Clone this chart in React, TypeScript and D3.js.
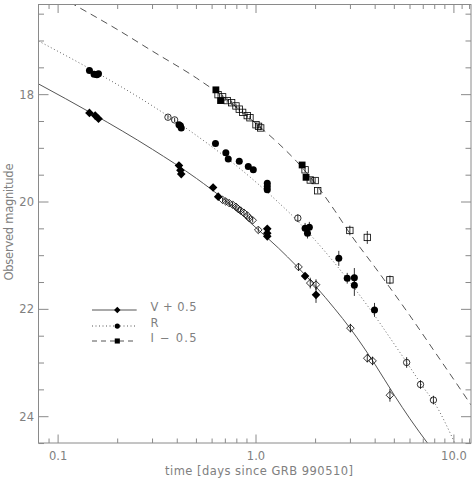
import React from 'react';
import * as d3 from 'd3';

// ---- data ----
const vFilledT = [0.144, 0.154, 0.160, 0.408, 0.415, 0.419, 0.607, 0.644, 1.14, 1.14, 1.14, 1.77, 2.01];
const vFilledM = [18.34, 18.39, 18.45, 19.32, 19.41, 19.48, 19.73, 19.90, 20.50, 20.58, 20.64, 21.38, 21.73];
const vFilledE = [0.02, 0.02, 0.02, 0.02, 0.02, 0.02, 0.02, 0.02, 0.03, 0.03, 0.03, 0.05, 0.15];

const vOpenT = [0.678, 0.704, 0.732, 0.762, 0.792, 0.813, 0.836, 0.869, 0.903, 0.925, 0.962, 1.027, 1.64, 1.88, 2.01, 3.0, 3.65, 3.88, 4.75];
const vOpenM = [19.96, 19.99, 20.02, 20.05, 20.09, 20.13, 20.16, 20.20, 20.25, 20.30, 20.34, 20.52, 21.21, 21.51, 21.54, 22.35, 22.91, 22.96, 23.60];
const vOpenE = [0.04, 0.04, 0.04, 0.04, 0.04, 0.04, 0.04, 0.04, 0.04, 0.04, 0.04, 0.05, 0.07, 0.1, 0.1, 0.08, 0.08, 0.08, 0.12];

const rFilledT = [0.144, 0.152, 0.157, 0.160, 0.408, 0.415, 0.419, 0.624, 0.704, 0.724, 0.823, 0.914, 0.969, 1.14, 1.14, 1.14, 1.77, 1.82, 1.86, 2.62, 2.89, 3.14, 3.14, 3.97];
const rFilledM = [17.55, 17.62, 17.63, 17.61, 18.56, 18.58, 18.62, 18.91, 19.08, 19.20, 19.24, 19.34, 19.40, 19.65, 19.71, 19.77, 20.49, 20.58, 20.47, 21.05, 21.42, 21.41, 21.55, 22.01];
const rFilledE = [0.02, 0.02, 0.02, 0.02, 0.02, 0.02, 0.02, 0.02, 0.02, 0.02, 0.02, 0.02, 0.02, 0.03, 0.03, 0.03, 0.1, 0.1, 0.1, 0.14, 0.1, 0.18, 0.2, 0.13];

const rOpenT = [0.359, 0.388, 1.627, 5.77, 6.78, 7.88];
const rOpenM = [18.42, 18.47, 20.30, 22.99, 23.40, 23.69];
const rOpenE = [0.04, 0.04, 0.07, 0.1, 0.08, 0.08];

const iFilledT = [0.627, 0.662, 1.71, 1.79];
const iFilledM = [17.91, 18.11, 19.31, 19.54];
const iFilledE = [0.02, 0.02, 0.03, 0.03];

const iOpenT = [0.643, 0.678, 0.715, 0.753, 0.792, 0.823, 0.856, 0.903, 0.932, 1.0, 1.03, 1.056, 1.77, 1.88, 1.99, 2.05, 2.98, 3.65, 4.75];
const iOpenM = [18.00, 18.04, 18.11, 18.15, 18.21, 18.27, 18.33, 18.39, 18.43, 18.56, 18.59, 18.62, 19.40, 19.59, 19.60, 19.79, 20.53, 20.66, 21.45];
const iOpenE = [0.04, 0.04, 0.04, 0.04, 0.04, 0.04, 0.04, 0.04, 0.04, 0.04, 0.04, 0.04, 0.05, 0.05, 0.05, 0.05, 0.09, 0.12, 0.08];

// fitted curves
const vCurveT = [0.0796, 0.15, 0.3, 0.5, 0.7, 1.0, 1.3, 1.6, 2.0, 2.5, 3.0, 4.0, 5.0, 6.0, 7.35];
const vCurveM = [17.80, 18.36, 19.02, 19.56, 19.97, 20.48, 20.86, 21.19, 21.57, 21.99, 22.36, 23.03, 23.60, 24.04, 24.49];
const rCurveT = [0.0796, 0.15, 0.3, 0.5, 0.7, 1.0, 1.3, 1.6, 2.0, 2.5, 3.0, 4.0, 5.0, 6.0, 7.0, 8.0, 10.1];
const rCurveM = [17.00, 17.55, 18.21, 18.76, 19.16, 19.63, 20.01, 20.33, 20.72, 21.14, 21.51, 22.13, 22.65, 23.08, 23.45, 23.75, 24.49];
const iCurveT = [0.0796, 0.12, 0.2, 0.3, 0.5, 0.7, 1.0, 1.3, 1.6, 2.0, 2.5, 3.0, 4.0, 5.0, 6.0, 8.0, 10.0, 12.2];
const iCurveM = [15.95, 16.32, 16.79, 17.19, 17.69, 18.07, 18.54, 18.91, 19.24, 19.66, 20.16, 20.60, 21.22, 21.71, 22.12, 22.79, 23.31, 23.78];

const xMajor = [0.1, 1, 10];
const xMajorLabels = ['0.1', '1.0', '10.0'];
const xMinor = [0.09, 0.2, 0.3, 0.4, 0.5, 0.6, 0.7, 0.8, 0.9, 2, 3, 4, 5, 6, 7, 8, 9, 11, 12];
const yMajor = [18, 20, 22, 24];
const yMinor = [16.5, 17, 17.5, 18.5, 19, 19.5, 20.5, 21, 21.5, 22.5, 23, 23.5, 24.5];

const legendLabels = ['V + 0.5', 'R', 'I \u2212 0.5'];

// ---- layout ----
const W = 474, H = 478;
const L = 38.5, R = 471, T = 4.5, B = 443;
const AX = '#8a8a8a';
const TX = '#808080';
const FONT = '"DejaVu Sans", sans-serif';

const x = d3.scaleLog().domain([0.0796, 12.2]).range([L, R]);
const y = d3.scaleLinear().domain([16.32, 24.49]).range([T, B]);

type Shape = 'diamond' | 'circle' | 'square';

function marker(shape: Shape, cx: number, cy: number, filled: boolean, key: string, scale = 1) {
  const fill = filled ? '#000' : 'none';
  const stroke = '#000';
  const sw = filled ? 0 : 0.8;
  if (shape === 'diamond') {
    const r = (filled ? 4.3 : 3.8) * scale;
    return <path key={key} d={`M${cx},${cy - r}L${cx + r},${cy}L${cx},${cy + r}L${cx - r},${cy}Z`} fill={fill} stroke={stroke} strokeWidth={sw} />;
  }
  if (shape === 'circle') {
    const r = (filled ? 3.5 : 3.2) * scale;
    return <circle key={key} cx={cx} cy={cy} r={r} fill={fill} stroke={stroke} strokeWidth={sw} />;
  }
  const h = (filled ? 3.4 : 3.2) * scale;
  return <rect key={key} x={cx - h} y={cy - h} width={2 * h} height={2 * h} fill={fill} stroke={stroke} strokeWidth={sw} />;
}

function series(ts: number[], ms: number[], es: number[], shape: Shape, filled: boolean, id: string) {
  return ts.map((t, i) => {
    const cx = x(t), cy = y(ms[i]);
    const e = es[i];
    return (
      <g key={`${id}${i}`}>
        <line x1={cx} x2={cx} y1={y(ms[i] - e)} y2={y(ms[i] + e)} stroke="#000" strokeWidth={0.8} />
        {marker(shape, cx, cy, filled, `${id}m${i}`)}
      </g>
    );
  });
}

const lineGen = (ts: number[], ms: number[]) =>
  d3.line<number>().x((d) => x(ts[d])).y((d) => y(ms[d])).curve(d3.curveMonotoneX)(ts.map((_, i) => i)) || '';

export default function App() {
  const legendY = [310, 326, 341];
  const legendDash = ['none', '1,2.5', '5,4'];
  const legendShape: Shape[] = ['diamond', 'circle', 'square'];
  return (
    <svg width={W} height={H} style={{ position: 'absolute', left: 0, top: 0, background: '#fff' }} fontFamily={FONT}>
      <defs>
        <clipPath id="plotclip">
          <rect x={L} y={T} width={R - L} height={B - T} />
        </clipPath>
      </defs>
      <rect x={0} y={0} width={W} height={H} fill="#fff" />

      {/* curves */}
      <g clipPath="url(#plotclip)" fill="none">
        <path d={lineGen(vCurveT, vCurveM)} stroke="#555" strokeWidth={1} />
        <path d={lineGen(rCurveT, rCurveM)} stroke="#666" strokeWidth={1} strokeDasharray="1,2.5" />
        <path d={lineGen(iCurveT, iCurveM)} stroke="#555" strokeWidth={1} strokeDasharray="7,5" />
      </g>

      {/* data */}
      <g clipPath="url(#plotclip)">
        {series(vOpenT, vOpenM, vOpenE, 'diamond', false, 'vo')}
        {series(rOpenT, rOpenM, rOpenE, 'circle', false, 'ro')}
        {series(iOpenT, iOpenM, iOpenE, 'square', false, 'io')}
        {series(vFilledT, vFilledM, vFilledE, 'diamond', true, 'vf')}
        {series(rFilledT, rFilledM, rFilledE, 'circle', true, 'rf')}
        {series(iFilledT, iFilledM, iFilledE, 'square', true, 'if')}
      </g>

      {/* frame */}
      <rect x={L} y={T} width={R - L} height={B - T} fill="none" stroke={AX} strokeWidth={1} />

      {/* x ticks */}
      {xMajor.map((t, i) => (
        <g key={`xM${i}`}>
          <line x1={x(t)} x2={x(t)} y1={B} y2={B - 8.5} stroke={AX} />
          <line x1={x(t)} x2={x(t)} y1={T} y2={T + 8.5} stroke={AX} />
          <text x={x(t)} y={460} textAnchor="middle" fontSize={11.5} fill={TX}>{xMajorLabels[i]}</text>
        </g>
      ))}
      {xMinor.filter((t) => x(t) < R - 0.5).map((t, i) => (
        <g key={`xm${i}`}>
          <line x1={x(t)} x2={x(t)} y1={B} y2={B - 4.5} stroke={AX} />
          <line x1={x(t)} x2={x(t)} y1={T} y2={T + 4.5} stroke={AX} />
        </g>
      ))}

      {/* y ticks */}
      {yMajor.map((m, i) => (
        <g key={`yM${i}`}>
          <line x1={L} x2={L + 10} y1={y(m)} y2={y(m)} stroke={AX} />
          <line x1={R} x2={R - 10} y1={y(m)} y2={y(m)} stroke={AX} />
          <text x={34} y={y(m)} dy="0.36em" textAnchor="end" fontSize={11.5} fill={TX}>{m}</text>
        </g>
      ))}
      {yMinor.map((m, i) => (
        <g key={`ym${i}`}>
          <line x1={L} x2={L + 5.5} y1={y(m)} y2={y(m)} stroke={AX} />
          <line x1={R} x2={R - 5.5} y1={y(m)} y2={y(m)} stroke={AX} />
        </g>
      ))}

      {/* axis titles */}
      <text x={259} y={475} textAnchor="middle" fontSize={11.5} fill={TX} textLength={188} lengthAdjust="spacing">
        time [days since GRB 990510]
      </text>
      <text transform="translate(13,222) rotate(-90)" textAnchor="middle" fontSize={11.5} fill={TX} textLength={117} lengthAdjust="spacing">
        Observed magnitude
      </text>

      {/* legend */}
      {legendLabels.map((lab, i) => (
        <g key={`lg${i}`}>
          <line x1={92} x2={136.7} y1={legendY[i]} y2={legendY[i]} stroke="#555" strokeWidth={1} strokeDasharray={legendDash[i]} />
          {marker(legendShape[i], 117.3, legendY[i], true, `lgm${i}`, 0.75)}
          <text x={150.5} y={legendY[i] + 1} fontSize={11.5} fill={TX} textLength={i === 1 ? undefined : 46} lengthAdjust="spacing">{lab}</text>
        </g>
      ))}
    </svg>
  );
}
